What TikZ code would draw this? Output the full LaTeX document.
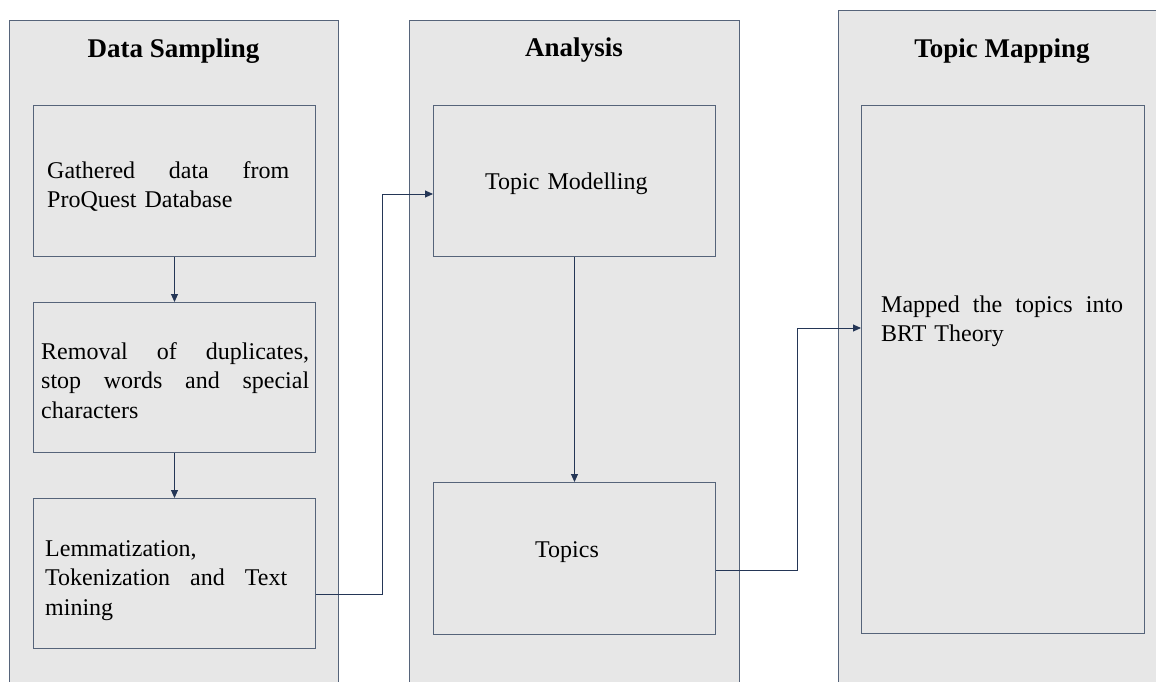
\documentclass[tikz,border=0pt]{standalone}
\usepackage{fontspec}
\setmainfont{Liberation Serif}
\usetikzlibrary{arrows.meta}
\setlength{\parindent}{0pt}
\definecolor{panelfill}{RGB}{231,231,231}
\definecolor{edgec}{RGB}{86,100,122}
\definecolor{arrowc}{RGB}{36,54,86}
% a line whose word gaps are spread over a given width
\newcommand{\fullline}[2][242pt]{\leavevmode\hbox to #1{\spaceskip=6pt plus 1fil\relax #2}}

\begin{document}
\begin{tikzpicture}[x=1pt,y=-1pt,
  frame/.style={draw=edgec, fill=panelfill, line width=1pt, inner sep=0pt, anchor=north west},
  heading/.style={font=\fontsize{27}{31}\selectfont\bfseries, inner sep=0pt, anchor=base},
  body/.style={font=\fontsize{24}{29.5}\selectfont, inner sep=0pt, anchor=base west, text width=#1, align=left},
  body/.default=242pt,
  conn/.style={draw=arrowc, line width=0.9pt, -{Triangle[length=8pt,width=7pt]}}]

\useasboundingbox (0,0) rectangle (1156,681);
\fill[white] (0,0) rectangle (1156,681);
\clip (0,0) rectangle (1156,681);

% three stage panels (they run past the lower edge)
\node[frame, minimum width=329pt, minimum height=700pt] (p1) at (9,20) {};
\node[frame, minimum width=330pt, minimum height=700pt] (p2) at (409,20) {};
\node[frame, minimum width=330pt, minimum height=700pt] (p3) at (838,10) {};

\node[heading] (t1) at (173.5,57) {Data Sampling};
\node[heading] (t2) at (574,56) {Analysis};
\node[heading] (t3) at (1002,57) {Topic Mapping};

% step boxes
\node[frame, minimum width=282pt, minimum height=151pt] (b1) at (33,105) {};
\node[frame, minimum width=282pt, minimum height=150pt] (b2) at (33,302) {};
\node[frame, minimum width=282pt, minimum height=150pt] (b3) at (33,498) {};
\node[frame, minimum width=282pt, minimum height=151pt] (b4) at (433,105) {};
\node[frame, minimum width=282pt, minimum height=152pt] (b5) at (433,482) {};
\node[frame, minimum width=283pt, minimum height=528pt] (b6) at (861,105) {};

% step texts
\node[body] (x1) at (47,178) {\fullline{Gathered data from}\\ProQuest Database};
\node[body=268pt] (x2) at (41,359) {\fullline[268pt]{Removal of duplicates,}\\\fullline[268pt]{stop words and special}\\characters};
\node[body] (x3) at (45,556) {Lemmatization,\\\fullline{Tokenization and Text}\\mining};
\node[body=200pt] (x4) at (485,189) {Topic Modelling};
\node[body=100pt] (x5) at (535,557) {Topics};
\node[body] (x6) at (881,312) {\fullline{Mapped the topics into}\\BRT Theory};

% connectors
\coordinate (j1) at (382,594);
\coordinate (j2) at (382,194);
\coordinate (j3) at (797,570);
\coordinate (j4) at (797,328);

\draw[conn] (b1.south) -- (b2.north);
\draw[conn] (b2.south) -- (b3.north);
\draw[conn] (b4.south) -- (b5.north);
\draw[conn] (b3.east |- j1) -- (j1) -- (j2) -- (b4.west |- j2);
\draw[conn] (b5.east |- j3) -- (j3) -- (j4) -- (b6.west |- j4);

\end{tikzpicture}
\end{document}
